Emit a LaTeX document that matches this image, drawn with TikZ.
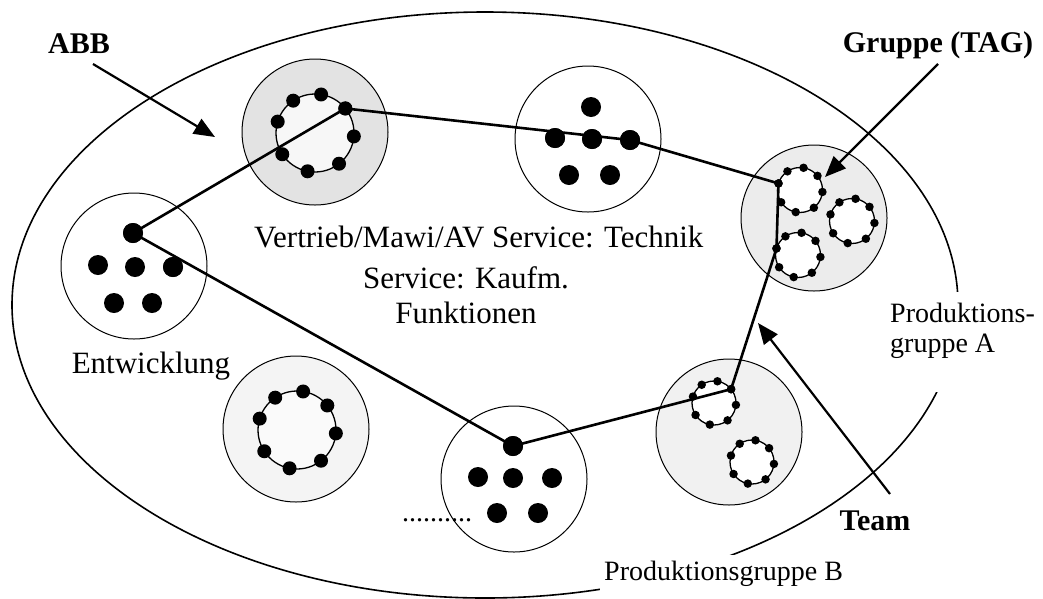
\documentclass[tikz,border=0pt]{standalone}
\usepackage{fontspec}
\setmainfont{Liberation Serif}
\usetikzlibrary{arrows.meta,calc}
\newcommand\ringdots[4]{%
  \foreach \a [count=\i] in {-124,-81,-39,5,52,101,147,197}
    \node[#4] (#1-\i) at ($(#2)+(\a:#3)$) {};}
\begin{document}
\begin{tikzpicture}[x=1pt,y=-1pt,
  lbl/.style={font=\fontsize{28}{33}\selectfont, inner sep=0pt},
  mlbl/.style={font=\fontsize{31}{36}\selectfont, inner sep=0pt},
  blbl/.style={font=\fontsize{30}{35}\selectfont\bfseries, inner sep=0pt},
  unit/.style={circle, draw, line width=1pt, minimum size=146pt, inner sep=0pt},
  ring/.style={circle, draw, line width=1.3pt, inner sep=0pt, fill=white},
  bigdot/.style={circle, fill=black, inner sep=0pt, minimum size=20pt},
  middot/.style={circle, fill=black, inner sep=0pt, minimum size=14pt},
  smalldot/.style={circle, fill=black, inner sep=0pt, minimum size=8.5pt},
  link/.style={line width=2.6pt, line join=round},
  pointer/.style={line width=2.2pt, -{Triangle[length=21pt,width=17pt]}},
  gap/.style={fill=white, inner xsep=4pt, inner ysep=6pt}]
\useasboundingbox (0,0) rectangle (1043,598);
% outer organisation
\draw[line width=1.6pt] (485,305) ellipse [x radius=473pt, y radius=293pt];
% units
\node[unit, fill=gray!22] (vert) at (315,132) {};
\node[unit] (top) at (588,139) {};
\node[unit] (ent) at (134,266) {};
\node[unit] (bm) at (514,479) {};
\node[unit, fill=gray!9] (bl) at (296,429) {};
\node[unit, fill=gray!15] (tagc) at (814,218) {};
\node[unit, fill=gray!11] (br) at (729,432) {};
% rings
\node[ring, minimum size=78pt, fill=gray!6] (vring) at (315,133) {};
\node[ring, minimum size=78pt, fill=gray!4] (blring) at (297,430) {};
\node[ring, minimum size=45pt] (t1) at (800,190) {};
\node[ring, minimum size=45pt] (t2) at (852,221) {};
\node[ring, minimum size=45pt] (t3) at (798,255) {};
\node[ring, minimum size=44pt] (b1) at (714,403) {};
\node[ring, minimum size=44pt] (b2) at (752,462) {};
% ring dots
\ringdots{vr}{vring}{39}{middot}
\ringdots{blr}{blring}{39}{middot}
\ringdots{ta}{t1}{22.5}{smalldot}
\ringdots{tb}{t2}{22.5}{smalldot}
\ringdots{tc}{t3}{22.5}{smalldot}
\ringdots{ba}{b1}{22}{smalldot}
\ringdots{bb}{b2}{22}{smalldot}
% dots of clusters
\node[bigdot] (tm1) at (591,107) {};
\node[bigdot] (tm2) at (555,138) {};
\node[bigdot] (tm3) at (592,139) {};
\node[bigdot] (tm4) at (630,140) {};
\node[bigdot] (tm5) at (569,175) {};
\node[bigdot] (tm6) at (610,175) {};
\node[bigdot] (e1) at (133,233) {};
\node[bigdot] (e2) at (98,265) {};
\node[bigdot] (e3) at (135,267) {};
\node[bigdot] (e4) at (173,267) {};
\node[bigdot] (e5) at (114,303) {};
\node[bigdot] (e6) at (152,303) {};
\node[bigdot] (m1) at (513,446) {};
\node[bigdot] (m2) at (478,477) {};
\node[bigdot] (m3) at (513,478) {};
\node[bigdot] (m4) at (552,478) {};
\node[bigdot] (m5) at (497,513) {};
\node[bigdot] (m6) at (538,513) {};
% links
\draw[link] (e1.center) -- (vr-3.center) -- (tm4.center) -- (ta-8.center)
  -- (tc-8.center) -- (ba-3.center) -- (m1.center) -- cycle;
\foreach \n in {tm2,tm3,tm4,e1,e4,m1} \node[bigdot] at (\n) {};
\node[middot] at (vr-3) {};
\foreach \n in {ta-8,tc-8,ba-3} \node[smalldot] at (\n) {};
% labels
\node[blbl, anchor=base] (abb) at (79,53) {ABB};
\node[blbl, anchor=base] (tag) at (938,52) {Gruppe (TAG)};
\node[mlbl, anchor=base west] (vtxt) at (254,247) {Vertrieb/Mawi/AV Service: Technik};
\node[mlbl, anchor=base] (k1) at (466,288) {Service: Kaufm.};
\node[mlbl, anchor=base] (k2) at (466,323) {Funktionen};
\node[mlbl, anchor=base] (enttxt) at (151,373) {Entwicklung};
\node[lbl, anchor=base west, gap, minimum height=100pt, minimum width=150pt] (pa1) at (884,342) {};
\node[lbl, anchor=base west] (pa2) at (890,322) {Produktions-};
\node[lbl, anchor=base west] (pa3) at (890,352) {gruppe A};
\node[blbl, anchor=base] (team) at (875,530) {Team};
\node[lbl, anchor=base west, gap] (pb) at (600,580) {Produktionsgruppe B};
\node[lbl, anchor=base] (more) at (437,521) {..........};
% pointers
\coordinate (abbfrom) at (93,64);
\coordinate (abbtip) at (215,137);
\coordinate (tagfrom) at (938,64);
\coordinate (tagtip) at (825,177);
\coordinate (teamfrom) at (890,494);
\coordinate (teamtip) at (758,323);
\draw[pointer] (abbfrom) -- (abbtip);
\draw[pointer] (tagfrom) -- (tagtip);
\draw[pointer] (teamfrom) -- (teamtip);
\end{tikzpicture}
\end{document}
